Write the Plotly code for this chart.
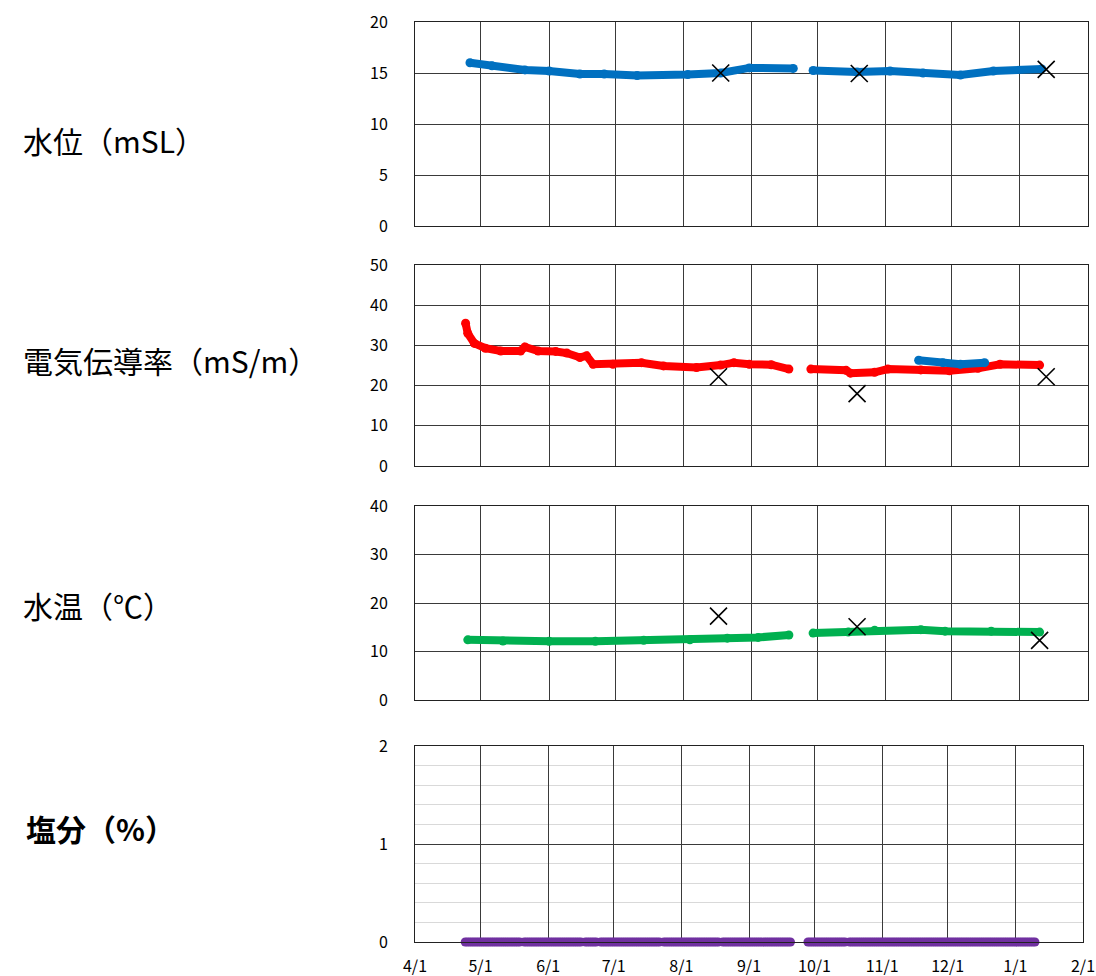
import pandas as pd
import plotly.graph_objects as go

# ---------------- data ----------------
X_RANGE = ["2022-04-01", "2023-02-01"]

# 水位 (mSL)
wl_dates_a = ["2022-04-26", "2022-05-06", "2022-05-21", "2022-06-01", "2022-06-15", "2022-06-26",
              "2022-07-11", "2022-08-03", "2022-08-18", "2022-08-31", "2022-09-20"]
wl_vals_a = [16.0, 15.7, 15.3, 15.2, 14.9, 14.9, 14.75, 14.85, 15.0, 15.5, 15.45]
wl_dates_b = ["2022-09-29", "2022-10-19", "2022-11-03", "2022-11-18", "2022-12-05", "2022-12-20",
              "2023-01-11"]
wl_vals_b = [15.25, 15.1, 15.2, 15.0, 14.8, 15.2, 15.4]
wl_obs_dates = ["2022-08-18", "2022-10-20", "2023-01-13"]
wl_obs_vals = [15.0, 14.95, 15.35]

# 電気伝導率 (mS/m)
ec_dates_a = ["2022-04-24", "2022-04-25", "2022-04-28", "2022-05-03", "2022-05-10", "2022-05-19",
              "2022-05-21", "2022-05-27", "2022-06-04", "2022-06-09", "2022-06-15", "2022-06-18",
              "2022-06-21", "2022-06-30", "2022-07-13", "2022-07-23", "2022-08-07", "2022-08-18",
              "2022-08-24", "2022-08-31", "2022-09-10", "2022-09-18"]
ec_vals_a = [35.5, 33.0, 30.5, 29.3, 28.6, 28.6, 29.6, 28.6, 28.5, 28.1, 27.0, 27.4,
             25.3, 25.3, 25.7, 24.9, 24.5, 25.1, 25.7, 25.3, 25.2, 24.1]
ec_dates_b = ["2022-09-28", "2022-10-14", "2022-10-16", "2022-10-27", "2022-11-02", "2022-11-17",
              "2022-11-30", "2022-12-13", "2022-12-23", "2023-01-10"]
ec_vals_b = [24.1, 23.8, 23.1, 23.3, 24.1, 23.9, 23.7, 24.3, 25.3, 25.1]
ec2_dates = ["2022-11-16", "2022-11-27", "2022-12-05", "2022-12-16"]
ec2_vals = [26.3, 25.7, 25.3, 25.7]
ec_obs_dates = ["2022-08-17", "2022-10-19", "2023-01-13"]
ec_obs_vals = [22.2, 18.0, 22.2]

# 水温 (℃)
wt_dates_a = ["2022-04-25", "2022-05-11", "2022-06-01", "2022-06-22", "2022-07-14", "2022-08-04",
              "2022-08-21", "2022-09-04", "2022-09-18"]
wt_vals_a = [12.4, 12.15, 12.1, 12.1, 12.3, 12.4, 12.75, 12.9, 13.4]
wt_dates_b = ["2022-09-29", "2022-10-15", "2022-10-27", "2022-11-17", "2022-11-28", "2022-12-19",
              "2023-01-10"]
wt_vals_b = [13.8, 14.0, 14.4, 14.5, 14.2, 14.2, 14.0]
wt_obs_dates = ["2022-08-17", "2022-10-19", "2023-01-10"]
wt_obs_vals = [17.3, 15.1, 12.3]

# 塩分 (%) : observed as 0 over these date spans
sal_segments = [("2022-04-24", "2022-05-19"), ("2022-05-21", "2022-06-16"),
                ("2022-06-18", "2022-06-23"), ("2022-06-25", "2022-07-22"),
                ("2022-07-24", "2022-08-18"), ("2022-08-20", "2022-09-20"),
                ("2022-09-28", "2022-10-15"), ("2022-10-17", "2023-01-10")]
sal_value = 0.0

LABELS = ["水位（mSL）", "電気伝導率（mS/m）", "水温（℃）", "<b>塩分（%）</b>"]
TICK_LABEL_FORMAT = "%-m/%-d"

# ---------------- styling ----------------
W, H = 1096, 976
BLUE, RED, GREEN, PURPLE = "#0070C0", "#FF0000", "#00B050", "#7030A0"
FONT = "Noto Sans CJK JP"
LW, MS = 8, 9


def px_x(p):
    return p / W


def px_y(p):
    return 1 - p / H


def join(da, va, db, vb):
    return da + [None] + db, va + [None] + vb


def ax(n):
    return "" if n == 1 else str(n)


fig = go.Figure()


def add_line(x, y, color, n):
    fig.add_trace(go.Scatter(x=x, y=y, mode="lines+markers", connectgaps=False,
                             line=dict(color=color, width=LW),
                             marker=dict(color=color, size=MS),
                             xaxis="x" + ax(n), yaxis="y" + ax(n),
                             showlegend=False, hoverinfo="x+y"))


def add_obs(x, y, n):
    fig.add_trace(go.Scatter(x=x, y=y, mode="markers",
                             marker=dict(symbol="x-thin", size=17,
                                         line=dict(color="black", width=1.6)),
                             xaxis="x" + ax(n), yaxis="y" + ax(n),
                             showlegend=False, hoverinfo="x+y"))


x, y = join(wl_dates_a, wl_vals_a, wl_dates_b, wl_vals_b)
add_line(x, y, BLUE, 1)
add_obs(wl_obs_dates, wl_obs_vals, 1)

x, y = join(ec_dates_a, ec_vals_a, ec_dates_b, ec_vals_b)
add_line(x, y, RED, 2)
add_line(ec2_dates, ec2_vals, BLUE, 2)
add_obs(ec_obs_dates, ec_obs_vals, 2)

x, y = join(wt_dates_a, wt_vals_a, wt_dates_b, wt_vals_b)
add_line(x, y, GREEN, 3)
add_obs(wt_obs_dates, wt_obs_vals, 3)

# salinity: daily observations of 0 inside each span, drawn as dots (unclipped at the axis)
sx, sy = [], []
for a, b in sal_segments:
    days = pd.date_range(a, b, freq="D")
    sx += [d.strftime("%Y-%m-%d") for d in days]
    sy += [sal_value] * len(days)
fig.add_trace(go.Scatter(x=sx, y=sy, mode="markers", cliponaxis=False,
                         marker=dict(color=PURPLE, size=MS),
                         xaxis="x4", yaxis="y4", showlegend=False, hoverinfo="x+y"))

# panel geometry in screen pixels: (top, bottom, left, right)
panels = [
    (22, 226, 415, 1088, [0, 20], 5),
    (265, 466, 415, 1088, [0, 50], 10),
    (506, 700, 415, 1088, [0, 40], 10),
    (746, 942, 415, 1083, [0, 2], 1),
]

layout = dict(width=W, height=H, margin=dict(l=0, r=0, t=0, b=0, autoexpand=False),
              paper_bgcolor="white", plot_bgcolor="white",
              font=dict(family=FONT, color="black"), showlegend=False)

GRID = "#3a3a3a"
TICKFONT = dict(size=16, family=FONT, color="black")
for i, (top, bot, left, right, yr, dt) in enumerate(panels, start=1):
    sfx = ax(i)
    xa = dict(domain=[px_x(left), px_x(right)], range=X_RANGE, type="date",
              anchor="y" + sfx, dtick="M1", tick0="2022-04-01",
              showgrid=True, gridcolor=GRID, gridwidth=1,
              showline=True, mirror=True, linecolor="#222", linewidth=1,
              zeroline=False, fixedrange=True, automargin=False)
    if i == 4:
        xa.update(showticklabels=True, tickformat=TICK_LABEL_FORMAT,
                  ticks="outside", ticklen=10, tickcolor="rgba(0,0,0,0)",
                  tickfont=TICKFONT)
    else:
        xa.update(showticklabels=False, ticks="")
    ya = dict(domain=[px_y(bot), px_y(top)], range=yr, dtick=dt, tick0=0,
              anchor="x" + sfx, showgrid=True, gridcolor=GRID, gridwidth=1,
              showline=True, mirror=True, linecolor="#222", linewidth=1,
              zeroline=False, ticks="outside", ticklen=23,
              tickcolor="rgba(0,0,0,0)", tickfont=TICKFONT,
              fixedrange=True, automargin=False)
    if i == 4:
        ya["minor"] = dict(dtick=0.2, showgrid=True, gridcolor="#d9d9d9", gridwidth=1)
    layout["xaxis" + sfx] = xa
    layout["yaxis" + sfx] = ya

label_y = [140, 360, 605, 828]
label_x = [21, 21, 21, 24]
layout["annotations"] = [
    dict(text=t, x=px_x(lx), y=px_y(ly), xref="paper", yref="paper",
         xanchor="left", yanchor="middle", showarrow=False,
         font=dict(family=FONT, size=30, color="black"))
    for t, lx, ly in zip(LABELS, label_x, label_y)
]

fig.update_layout(**layout)
fig.write_html("out.html",
               config={"displayModeBar": False, "staticPlot": True},
               post_script="document.body.style.margin='0';"
                           "document.body.style.overflow='hidden';")
